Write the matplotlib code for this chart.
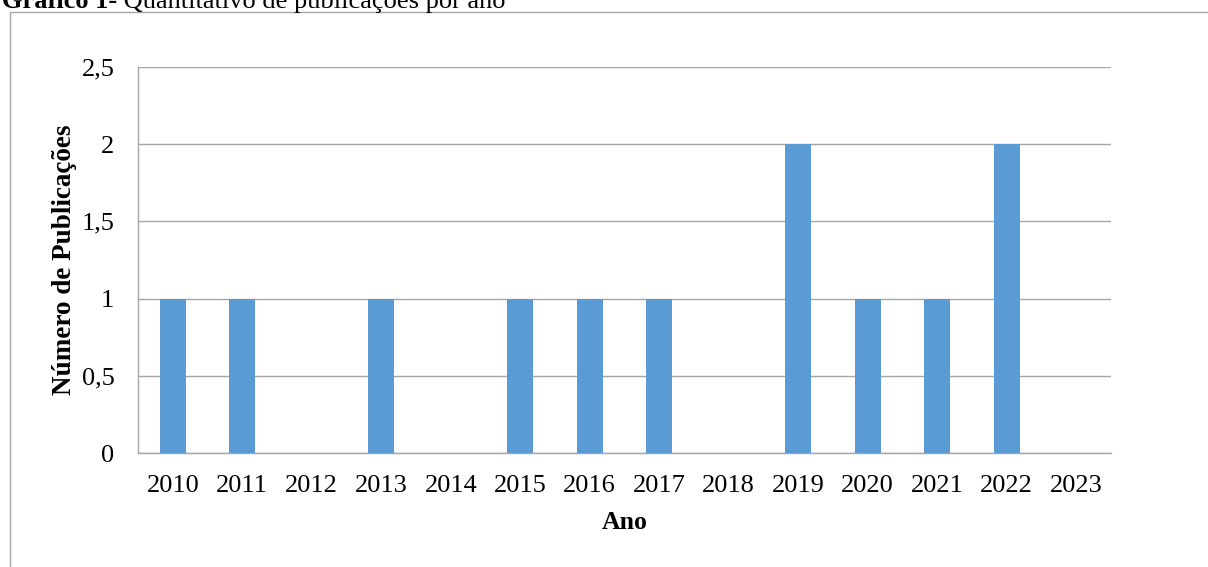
import matplotlib
matplotlib.use('Agg')
import matplotlib.pyplot as plt
from matplotlib.patches import Rectangle

plt.rcParams['font.family'] = ['Liberation Serif', 'DejaVu Serif']

anos = ['2010', '2011', '2012', '2013', '2014', '2015', '2016',
        '2017', '2018', '2019', '2020', '2021', '2022', '2023']
publicacoes = [1, 1, 0, 1, 0, 1, 1, 1, 0, 2, 1, 1, 2, 0]
yticks = [0, 0.5, 1, 1.5, 2, 2.5]
ylabels = ['0', '0,5', '1', '1,5', '2', '2,5']

W, H = 1208, 567
fig = plt.figure(figsize=(W / 100, H / 100), dpi=100)
fig.patch.set_facecolor('white')

# moldura externa (cortada à direita e embaixo)
fig.add_artist(Rectangle((10 / W, -0.1), 1.2, (H - 12) / H + 0.1, transform=fig.transFigure,
                         fill=False, ec='#A6A6A6', lw=1.0))

# título: parte em negrito + resto normal, logo em seguida
t1 = fig.text(2 / W, 1 - 8 / H, 'Gráfico 1-', ha='left', va='baseline', fontsize=19,
              fontweight='bold', color='black')
r = fig.canvas.get_renderer()
bb = t1.get_window_extent(r)
fig.text(bb.x1 / W, 1 - 8 / H, ' Quantitativo de publicações por ano', ha='left',
         va='baseline', fontsize=19, color='black')

ax = fig.add_axes([138 / W, 1 - 453 / H, (1111 - 138) / W, (453 - 67) / H])
x = range(len(anos))
ax.bar(x, publicacoes, width=0.37, color='#5B9BD5', zorder=3)

ax.set_xlim(-0.5, len(anos) - 0.5)
ax.set_ylim(0, 2.5)
ax.set_yticks(yticks)
ax.set_yticklabels(ylabels)
ax.set_xticks(list(x))
ax.set_xticklabels(anos)
ax.tick_params(axis='both', length=0, labelsize=19, colors='black')
ax.tick_params(axis='y', pad=17)
ax.tick_params(axis='x', pad=16)

ax.grid(axis='y', color='#A6A6A6', lw=1.0, zorder=0)
for s in ['top', 'right']:
    ax.spines[s].set_visible(False)
for s in ['left', 'bottom']:
    ax.spines[s].set_color('#A6A6A6')
    ax.spines[s].set_linewidth(1.0)

ax.set_xlabel('Ano', fontsize=18.5, fontweight='bold', labelpad=10)
ax.set_ylabel('Número de Publicações', fontsize=19.5, fontweight='bold', labelpad=3)

fig.savefig('out.png', dpi=100, facecolor='white')
